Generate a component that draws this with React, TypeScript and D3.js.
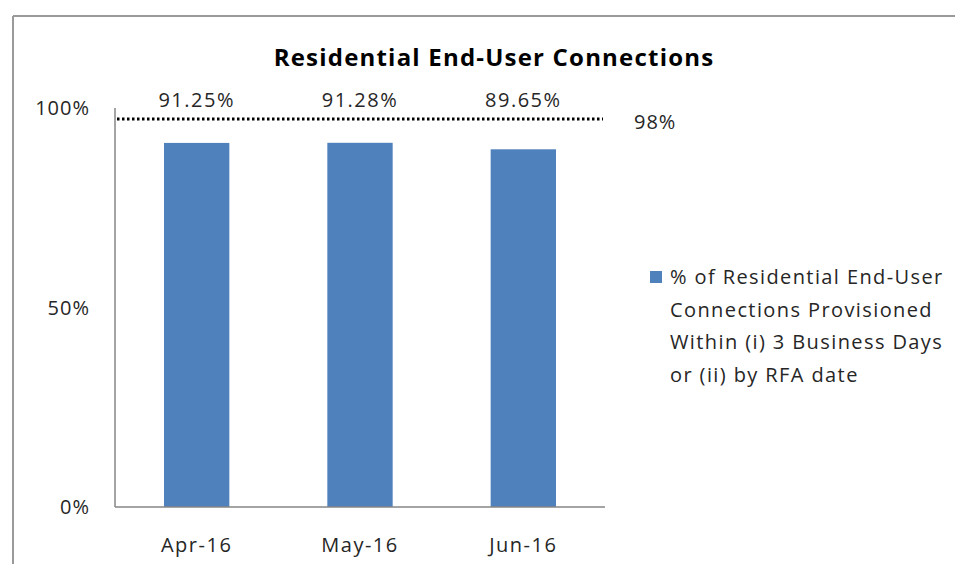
import React from "react";
import * as d3 from "d3";

const categories = ["Apr-16", "May-16", "Jun-16"];
const values = [91.25, 91.28, 89.65];
const valueLabels = ["91.25%", "91.28%", "89.65%"];
const target = 98;
const targetLabel = "98%";
const yTicks = [0, 50, 100];
const legendLines = [
  "% of Residential End-User",
  "Connections Provisioned",
  "Within (i) 3 Business Days",
  "or (ii) by RFA date",
];
const title = "Residential End-User Connections";

const W = 955;
const H = 564;
const plot = { left: 115, right: 605, top: 108, bottom: 507 };
const font = "'Open Sans', 'DejaVu Sans', sans-serif";
const textColor = "#262626";

export default function App() {
  const x = d3
    .scaleBand<string>()
    .domain(categories)
    .range([plot.left, plot.right])
    .paddingInner(0.6)
    .paddingOuter(0.3);
  const y = d3.scaleLinear().domain([0, 100]).range([plot.bottom, plot.top]);

  return (
    <svg
      width={W}
      height={H}
      style={{ position: "absolute", left: 0, top: 0, background: "#fff" }}
    >
      <rect x={0} y={0} width={W} height={H} fill="#fff" />
      {/* outer frame */}
      <line x1={13} x2={W} y1={16} y2={16} stroke="#9a9a9a" strokeWidth={2} />
      <line x1={13} x2={13} y1={16} y2={H} stroke="#9a9a9a" strokeWidth={2} />

      <text
        x={494}
        y={66}
        textAnchor="middle"
        fontFamily={font}
        fontWeight="bold"
        fontSize={24}
        letterSpacing={1.2}
        fill="#000"
      >
        {title}
      </text>

      {/* y tick labels */}
      {yTicks.map((t) => (
        <text
          key={t}
          x={90}
          y={y(t) + 7}
          textAnchor="end"
          fontFamily={font}
          fontSize={20}
          letterSpacing={1}
          fill={textColor}
        >
          {t}%
        </text>
      ))}

      {/* bars */}
      {values.map((v, i) => (
        <rect
          key={categories[i]}
          x={x(categories[i])!}
          y={y(v)}
          width={x.bandwidth()}
          height={y(0) - y(v)}
          fill="#4F81BD"
        />
      ))}

      {/* axes */}
      <line
        x1={plot.left}
        x2={plot.left}
        y1={plot.top}
        y2={plot.bottom}
        stroke="#868686"
        strokeWidth={1.5}
      />
      <line
        x1={plot.left}
        x2={plot.right}
        y1={plot.bottom}
        y2={plot.bottom}
        stroke="#868686"
        strokeWidth={1.5}
      />

      {/* target line */}
      <line
        x1={plot.left + 2}
        x2={plot.right - 2}
        y1={y(target) + 3}
        y2={y(target) + 3}
        stroke="#000"
        strokeWidth={3}
        strokeDasharray="2.5 2.5"
      />
      <text
        x={634}
        y={y(target) + 13}
        fontFamily={font}
        fontSize={20}
        letterSpacing={1}
        fill={textColor}
      >
        {targetLabel}
      </text>

      {/* value labels */}
      {valueLabels.map((l, i) => (
        <text
          key={l}
          x={x(categories[i])! + x.bandwidth() / 2}
          y={107}
          textAnchor="middle"
          fontFamily={font}
          fontSize={20}
          letterSpacing={1.5}
          fill={textColor}
        >
          {l}
        </text>
      ))}

      {/* category labels */}
      {categories.map((c) => (
        <text
          key={c}
          x={x(c)! + x.bandwidth() / 2}
          y={552}
          textAnchor="middle"
          fontFamily={font}
          fontSize={20}
          letterSpacing={1.5}
          fill={textColor}
        >
          {c}
        </text>
      ))}

      {/* legend */}
      <rect x={650} y={271} width={12} height={12} fill="#4F81BD" />
      {legendLines.map((l, i) => (
        <text
          key={l}
          x={670}
          y={284 + i * 32.5}
          fontFamily={font}
          fontSize={20}
          letterSpacing={1.4}
          fill={textColor}
        >
          {l}
        </text>
      ))}
    </svg>
  );
}
